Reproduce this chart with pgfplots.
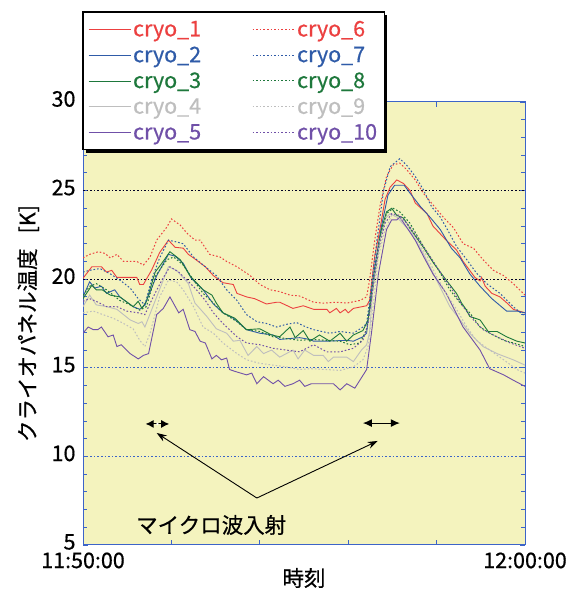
\documentclass[border=0pt]{standalone}
\usepackage{fontspec}
\setmainfont{Noto Sans CJK JP}[FakeBold=0.6]
\usepackage{pgfplots}
\pgfplotsset{compat=1.18}
\usetikzlibrary{arrows.meta}

\definecolor{c1}{RGB}{236,64,64}
\definecolor{c2}{RGB}{47,91,168}
\definecolor{c3}{RGB}{30,120,60}
\definecolor{c4}{RGB}{190,190,190}
\definecolor{c5}{RGB}{112,80,168}
\definecolor{bgy}{RGB}{244,243,190}
\definecolor{axblue}{RGB}{60,100,200}

\tikzset{
  sol/.style={line width=0.9bp, solid},
  dot/.style={line width=1bp, dash pattern=on 1.6bp off 2bp},
}

\begin{document}
\begin{tikzpicture}[font=\fontsize{21.5bp}{26bp}\selectfont]
\begin{axis}[
  scale only axis,
  width=442bp, height=443bp,
  xmin=0, xmax=600, ymin=5, ymax=30,
  axis background/.style={fill=bgy},
  axis line style={axblue, line width=1bp},
  tick style={axblue, line width=0.8bp},
  major tick length=5bp, minor tick length=4bp,
  xtick={0,120,...,600},
  xticklabels={11:50:00,{},{},{},{},12:00:00},
  ytick={5,10,...,30},
  yticklabels={5,10,15,20,25,30},
  minor ytick={5,6,...,30},
  yticklabel style={xshift=-4bp, yshift=3bp},
  xticklabel style={yshift=-4bp},
  xlabel={時刻},
  ylabel={クライオパネル温度\hspace{0.7em}[K]},
  xlabel style={at={(axis description cs:0.5,-0.0745)}, anchor=center},
  ylabel style={at={(axis description cs:-0.124,0.5)}, anchor=center},
  legend columns=5,
  transpose legend,
  legend image code/.code={\draw[#1] (0bp,0bp) -- (42bp,0bp);},
  legend style={at={(axis description cs:0,1.203)}, anchor=north west,
    name=leg, draw=none, fill=white,
    inner xsep=5bp, inner ysep=6.6bp,
    cells={anchor=west},
    /tikz/every even column/.append style={column sep=49bp},
    row sep=4.7bp},
]
% grid lines
\draw[axblue, line width=1bp, dash pattern=on 1.6bp off 2bp] (axis cs:0,10) -- (axis cs:600,10);
\draw[axblue, line width=1bp, dash pattern=on 1.6bp off 2bp] (axis cs:0,15) -- (axis cs:600,15);
\draw[black!85!blue, line width=1bp, dash pattern=on 1.6bp off 2bp] (axis cs:0,20) -- (axis cs:600,20);
\draw[black!85!blue, line width=1bp, dash pattern=on 1.6bp off 2bp] (axis cs:0,25) -- (axis cs:600,25);

\addplot[c1, sol, no markers] table {
0 20.05
12 20.7
25 20.7
32 20.4
39 20.5
46 20.1
73 20.1
77 19.7
82 19.7
86 20.0
93 20.5
104 21.5
116 22.2
125 21.8
136 21.75
143 21.4
150 21.2
166 20.7
177 20.2
190 19.8
204 19.7
209 19.2
222 19.0
233 18.9
249 18.6
263 18.7
267 18.7
285 18.35
299 18.5
313 18.3
331 18.3
335 18.1
344 18.35
349 18.1
356 18.3
360 18.1
367 18.35
385 18.5
389 18.8
396 21.3
403 22.8
410 24.5
417 25.2
426 25.6
435 25.4
444 25.0
451 24.3
467 23.7
475 23.0
493 22.2
507 21.65
516 21.0
532 20.1
539 19.9
541 20.1
546 19.6
555 19.2
566 19.0
577 18.6
584 18.3
600 18.1
};
\addlegendentry{\textcolor{c1}{cryo\_1}}

\addplot[c2, sol, no markers] table {
0 19.0
9 19.85
16 19.5
25 19.6
32 19.2
43 19.4
50 19.0
68 18.45
77 18.3
84 18.55
100 20.2
116 21.4
125 21.3
136 20.9
147 20.05
163 19.4
177 18.6
190 18.1
204 17.8
222 17.15
240 16.95
258 16.85
267 16.6
281 16.65
294 16.7
308 16.6
313 16.5
331 16.5
358 16.55
367 16.5
380 16.75
385 16.95
389 18.45
396 20.7
405 22.95
414 24.75
423 25.3
436 25.3
444 24.85
458 24.1
471 23.5
485 22.8
500 21.75
512 21.2
525 20.3
539 19.6
555 18.9
575 18.2
589 18.2
600 18.1
};
\addlegendentry{\textcolor{c2}{cryo\_2}}

\addplot[c3, sol, no markers] table {
0 18.9
12 19.65
18 19.4
26 19.4
37 19.1
50 19.0
68 18.45
75 18.75
80 18.35
86 18.75
98 20.4
107 20.9
118 21.55
132 21.1
145 20.2
163 19.4
175 19.1
181 18.65
190 18.1
206 17.8
222 17.15
240 17.2
256 16.85
267 16.75
281 17.3
288 16.7
299 17.1
308 16.5
321 16.85
335 16.5
349 16.95
358 16.5
367 16.85
380 17.1
387 17.7
392 19.0
396 20.3
405 22.8
412 23.8
419 24.0
426 23.6
435 23.45
444 22.85
462 21.8
476 20.9
493 19.95
507 19.2
514 18.65
519 18.35
525 17.9
539 17.7
550 17.05
562 17.05
575 16.75
589 16.5
600 16.4
};
\addlegendentry{\textcolor{c3}{cryo\_3}}

\addplot[c4, sol, no markers] table {
0 18.45
9 19.1
18 18.55
32 18.45
46 18.3
64 17.7
75 17.5
80 17.6
84 17.3
100 19.0
116 20.7
127 20.5
143 19.75
152 18.65
168 17.9
181 17.2
195 16.95
204 16.5
213 16.55
224 15.7
236 16.2
245 15.8
256 16.0
267 15.6
285 16.0
292 15.5
301 16.0
313 15.7
326 15.7
333 15.35
340 15.6
358 15.6
367 15.35
378 16.0
385 16.3
389 17.0
394 19.75
403 22.2
411 23.45
417 23.7
426 23.5
444 22.7
462 21.45
480 19.95
498 18.45
512 17.7
525 16.95
543 16.2
562 15.8
584 15.45
600 15.15
};
\addlegendentry{\textcolor{c4}{cryo\_4}}

\addplot[c5, sol, no markers] table {
0 16.95
7 17.3
14 17.15
20 17.15
25 17.3
34 16.75
41 16.85
46 16.2
52 16.3
64 15.8
75 15.5
82 15.7
89 15.8
100 18.0
109 18.35
118 19.0
130 18.1
136 18.3
145 17.15
152 17.05
159 16.5
166 16.4
175 15.5
181 15.7
188 15.45
195 15.55
199 14.9
206 14.8
222 14.6
229 14.7
236 14.1
245 14.5
258 14.1
265 14.3
274 13.95
285 14.1
294 14.3
301 13.95
310 14.1
340 14.1
349 13.75
358 14.1
369 13.85
385 14.9
392 17.1
401 20.3
412 22.8
419 23.35
426 23.35
430 23.5
439 22.95
451 22.2
462 21.3
475 20.3
493 19.2
516 17.3
539 16.0
552 14.95
571 14.6
584 14.3
600 13.95
};
\addlegendentry{\textcolor{c5}{cryo\_5}}

\addplot[c1, dot, no markers] table {
0 21.2
9 21.4
21 21.55
30 21.45
37 21.2
46 21.4
55 21.0
73 21.0
82 20.8
91 21.25
100 22.2
114 22.95
120 23.4
132 23.05
141 22.6
152 22.2
159 22.2
172 21.4
186 21.25
195 21.0
209 20.7
227 20.2
240 19.7
254 19.4
267 19.3
281 19.1
294 19.05
313 18.7
326 18.65
344 18.7
358 18.65
376 18.8
385 19.0
389 19.95
396 22.2
403 24.1
412 25.8
421 26.45
430 26.55
439 26.2
451 25.6
462 24.85
475 24.2
489 23.5
503 22.9
516 22.0
530 21.75
543 21.1
557 20.5
571 20.2
584 19.75
600 19.1
};
\addlegendentry{\textcolor{c1}{cryo\_6}}

\addplot[c2, dot, no markers] table {
0 20.4
9 20.5
23 20.6
37 20.3
50 19.95
64 19.5
75 18.9
84 18.55
93 19.95
104 21.2
116 22.2
127 22.1
136 22.0
150 21.25
166 20.7
181 20.2
195 19.4
209 18.8
222 18.0
236 17.6
249 17.5
263 17.3
276 17.45
290 17.55
303 17.3
313 17.15
335 16.95
349 17.05
367 16.95
380 17.3
385 17.5
392 19.75
399 22.2
408 25.0
417 26.35
430 26.8
439 26.45
451 25.8
462 25.05
473 24.1
485 23.5
496 22.7
507 21.85
521 21.1
534 20.35
548 19.75
566 19.2
584 18.45
600 17.9
};
\addlegendentry{\textcolor{c2}{cryo\_7}}

\addplot[c3, dot, no markers] table {
0 19.1
9 19.6
18 19.75
32 19.4
50 18.8
64 18.55
77 18.25
86 18.45
98 20.15
114 21.1
123 21.25
136 20.8
150 19.95
163 19.2
177 18.65
190 18.1
209 17.6
222 17.15
240 17.05
258 16.75
276 16.65
294 16.55
313 16.6
331 16.55
349 16.5
362 16.3
376 16.4
385 17.15
389 18.45
394 19.95
403 22.4
412 23.7
421 24.0
430 23.8
444 23.15
462 21.85
480 20.7
498 19.4
512 18.65
525 18.1
539 17.3
552 16.95
571 16.55
584 16.4
600 16.2
};
\addlegendentry{\textcolor{c3}{cryo\_8}}

\addplot[c4, dot, no markers] table {
0 18.1
14 18.2
27 18.0
41 17.8
55 17.5
68 17.2
77 16.55
84 16.2
91 16.95
104 19.0
116 19.95
127 19.85
136 19.4
150 18.45
163 17.3
177 16.95
190 16.4
209 15.8
222 15.45
240 15.25
258 15.15
276 15.05
294 14.9
308 14.95
331 14.9
349 14.85
367 15.05
380 15.45
387 16.2
392 17.8
401 21.3
410 22.8
419 23.6
426 23.55
439 23.15
453 22.2
467 21.3
480 20.15
493 19.2
507 18.3
521 17.3
534 16.55
552 16.0
571 15.45
589 14.9
600 14.7
};
\addlegendentry{\textcolor{c4}{cryo\_9}}

\addplot[c5, dot, no markers] table {
0 18.75
9 18.9
18 18.75
32 18.45
46 18.45
59 18.2
75 18.1
84 18.0
93 18.8
107 19.95
118 20.7
130 20.4
141 19.95
152 19.5
166 18.8
177 18.1
190 17.5
209 16.75
222 16.4
240 16.3
258 16.1
276 16.0
294 15.9
313 16.3
331 15.9
349 15.9
367 16.1
380 16.55
387 17.5
392 19.0
401 21.65
410 23.15
419 23.7
430 23.6
444 22.95
462 21.85
480 20.7
498 19.6
516 18.45
530 17.7
543 17.15
562 16.75
580 16.4
600 16.1
};
\addlegendentry{\textcolor{c5}{cryo\_10}}

% annotations
\draw[line width=1bp, {Latex[length=8bp,width=8bp]}-{Latex[length=8bp,width=8bp]}] (axis cs:85,11.83) -- (axis cs:117,11.83);
\fill[white] (axis cs:101,11.83) circle (1.3bp);
\draw[line width=1bp, {Latex[length=9bp,width=8bp]}-{Latex[length=9bp,width=8bp]}] (axis cs:380,11.88) -- (axis cs:430,11.88);
\draw[line width=0.9bp, -{Stealth[length=10bp,width=7bp]}] (axis cs:236,7.65) -- (axis cs:100,11.32);
\draw[line width=0.9bp, -{Stealth[length=10bp,width=7bp]}] (axis cs:236,7.65) -- (axis cs:400,10.87);
\node at (axis cs:174,6.13) {マイクロ波入射};

\coordinate (BL) at (axis description cs:-0.1878,-0.1084);
\coordinate (TR) at (axis description cs:1.1222,1.2302);
\end{axis}
% legend frame and shadow
\draw[black, line width=1.2bp] (leg.south west) rectangle (leg.north east);
\fill[black] ([yshift=-3bp]leg.north east) rectangle ([xshift=3bp,yshift=-3bp]leg.south east);
\fill[black] ([xshift=3bp]leg.south west) rectangle ([xshift=3bp,yshift=-3bp]leg.south east);
\pgfresetboundingbox
\useasboundingbox (BL) rectangle (TR);
\end{tikzpicture}
\end{document}
